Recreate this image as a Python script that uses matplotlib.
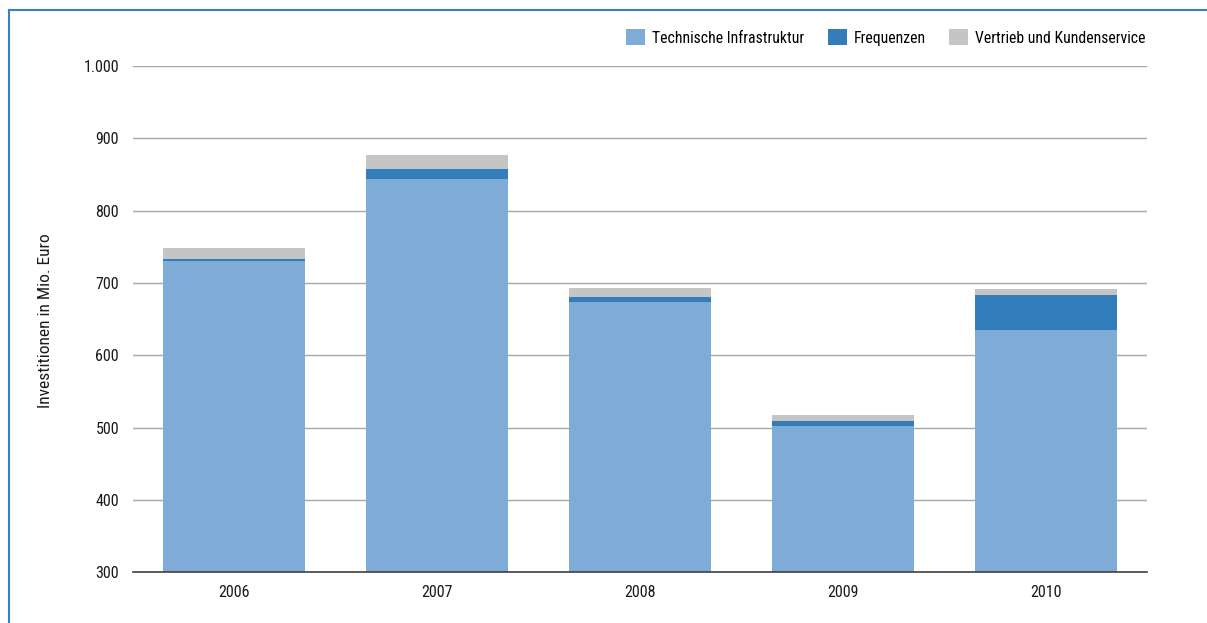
import matplotlib.pyplot as plt
import numpy as np
from matplotlib.patches import Patch
from matplotlib.lines import Line2D

plt.rcParams['font.family'] = ['Roboto Condensed', 'DejaVu Sans']

# Werte (Mio. Euro)
jahre = ['2006', '2007', '2008', '2009', '2010']
technik = [731, 844, 674, 502, 635]
frequenzen = [2, 14, 7, 7, 48]
vertrieb = [15, 19, 12, 9, 9]

serien = ['Technische Infrastruktur', 'Frequenzen', 'Vertrieb und Kundenservice']
farben = ['#7facd6', '#337dba', '#c5c5c5']

fig = plt.figure(figsize=(12.07, 6.23), dpi=100)
ax = fig.add_axes([0.1102, 0.0811, 0.8401, 0.8129])

x = np.arange(len(jahre))
unten = np.zeros(len(jahre))
for werte, farbe in zip([technik, frequenzen, vertrieb], farben):
    ax.bar(x, werte, 0.7, bottom=unten, color=farbe, zorder=2)
    unten += np.array(werte)

ax.set_xlim(-0.5, len(jahre) - 0.5)
ax.set_ylim(300, 1000)
ax.set_yticks(range(300, 1001, 100))
ax.set_yticklabels(['300', '400', '500', '600', '700', '800', '900', '1.000'])
ax.set_xticks(x)
ax.set_xticklabels(jahre)
ax.yaxis.grid(True, color='#a6a6a6', linewidth=1.0, zorder=1)
ax.tick_params(length=0, labelsize=11.5, colors='#1a1a1a')
ax.tick_params(axis='y', pad=10)
ax.tick_params(axis='x', pad=9)
for s in ['top', 'right', 'left']:
    ax.spines[s].set_visible(False)
ax.spines['bottom'].set_color('#404040')
ax.spines['bottom'].set_linewidth(1.2)
ax.spines['bottom'].set_zorder(3)

fig.text(0.0373, 0.485, 'Investitionen in Mio. Euro', rotation=90, ha='center', va='center',
         fontsize=12.5, color='#1a1a1a')

handles = [Patch(facecolor=f, edgecolor='none') for f in farben]
fig.legend(handles, serien, loc='center right', bbox_to_anchor=(0.961, 0.94), ncol=3,
           frameon=False, fontsize=11.3, handlelength=1.2, handleheight=1.2,
           handletextpad=0.45, columnspacing=1.5)

# blauer Rahmen links und oben
fig.add_artist(Line2D([0.0075, 0.0075], [0, 0.984], color='#3a7dc9', linewidth=1.5))
fig.add_artist(Line2D([0.0075, 1.0], [0.984, 0.984], color='#3a7dc9', linewidth=1.5))

fig.savefig('out.png', dpi=100)
